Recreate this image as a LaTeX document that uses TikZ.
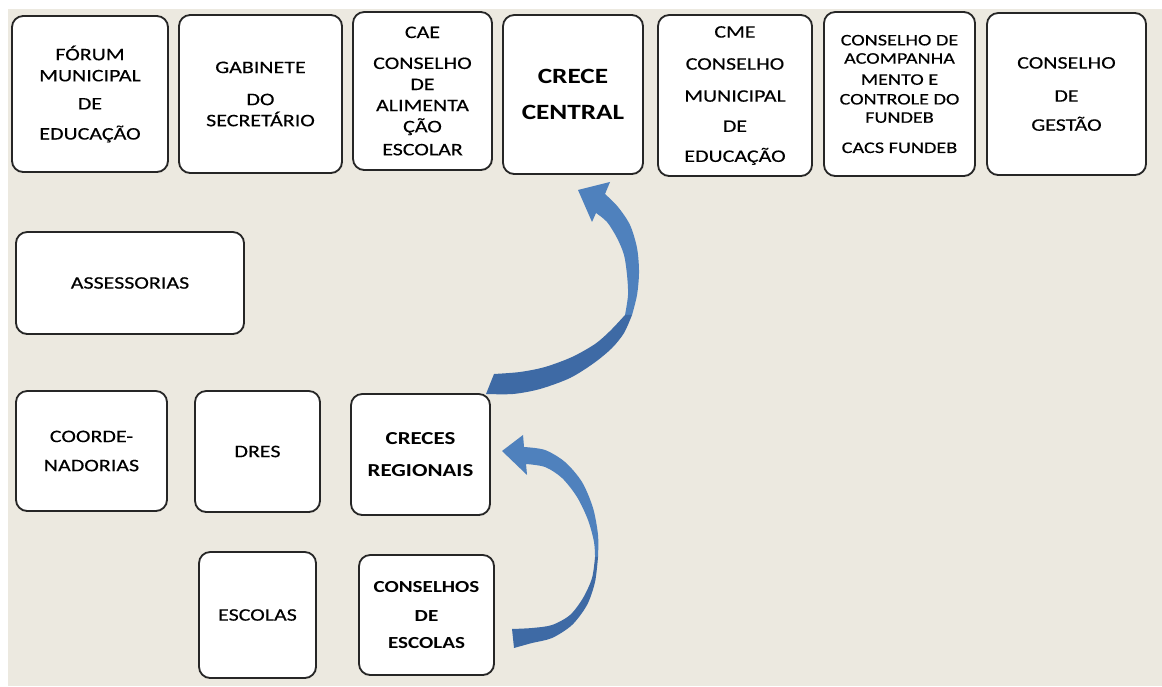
\documentclass[tikz,border=0pt]{standalone}
\usepackage{fontspec}
\setmainfont{Carlito}[FakeStretch=1.25, UprightFeatures={FakeBold=0.3}]
\usepackage{tikz}

\definecolor{fundo}{RGB}{236,233,224}
\definecolor{azul}{RGB}{79,129,189}
\definecolor{azulescuro}{RGB}{62,106,165}

\tikzset{
	caixa/.style = {draw = black!85, line width = 1.3pt, rounded corners = 8pt, fill = white,
		align = center, inner sep = 0pt, outer sep = 0pt, font = \fontsize{12.5}{15}\selectfont},
}

\begin{document}
\begin{tikzpicture}[x = 0.025cm, y = -0.025cm]
	\useasboundingbox (0,0) rectangle (1162,686);
	\fill [white] (0,0) rectangle (1162,686);
	\fill [fundo] (8,9) rectangle (1162,686);

	% linha de cima
	\node [caixa, minimum width = 3.9cm, minimum height = 3.9cm] (forum) at (90,94)
		{FÓRUM\\MUNICIPAL\\[5pt]DE\\[6.4pt]EDUCAÇÃO};
	\node [caixa, minimum width = 4.075cm, minimum height = 3.95cm] (gabinete) at (260.5,94)
		{GABINETE\\[7.8pt]DO\\SECRETÁRIO};
	\node [caixa, minimum width = 3.475cm, minimum height = 3.95cm] (cae) at (422.5,91)
		{CAE\\[7pt]CONSELHO\\DE\\ALIMENTA\\ÇÃO\\[1.4pt]ESCOLAR};
	\node [caixa, minimum width = 3.5cm, minimum height = 3.975cm, font = \fontsize{15.5}{18.6}\bfseries] (crece) at (573,94.5)
		{CRECE\\[6.4pt]CENTRAL};
	\node [caixa, minimum width = 3.85cm, minimum height = 4.025cm] (cme) at (735,95.5)
		{CME\\[7.8pt]CONSELHO\\[7.8pt]MUNICIPAL\\[6.4pt]DE\\[6.4pt]EDUCAÇÃO};
	\node [caixa, minimum width = 3.775cm, minimum height = 4.1cm, font = \fontsize{11.5}{14}\selectfont] (fundeb) at (899.5,94)
		{CONSELHO DE\\[-1pt]ACOMPANHA\\[1pt]MENTO E\\CONTROLE DO\\[-1pt]FUNDEB\\[7.5pt]CACS FUNDEB};
	\node [caixa, minimum width = 3.975cm, minimum height = 4.05cm] (gestao) at (1066.5,94)
		{CONSELHO\\[8.5pt]DE\\[5.7pt]GESTÃO};

	% assessorias e coordenadorias
	\node [caixa, minimum width = 5.7cm, minimum height = 2.55cm] (assessorias) at (130,283) {ASSESSORIAS};
	\node [caixa, minimum width = 3.775cm, minimum height = 3cm] (coorde) at (91.5,451)
		{COORDE-\\[5.7pt]NADORIAS};
	\node [caixa, minimum width = 3.125cm, minimum height = 3.025cm] (dres) at (257.5,451.5) {DRES};
	\node [caixa, minimum width = 3.475cm, minimum height = 3.025cm, font = \fontsize{13}{15.6}\bfseries] (creces) at (420.5,454.5)
		{CRECES\\[7.2pt]REGIONAIS};

	% escolas
	\node [caixa, minimum width = 2.925cm, minimum height = 3.15cm] (escolas) at (257.5,615) {ESCOLAS};
	\node [caixa, minimum width = 3.375cm, minimum height = 3cm, font = \fontsize{12}{14.4}\bfseries] (conselhos) at (426.5,615)
		{CONSELHOS\\[6.2pt]DE\\[4.8pt]ESCOLAS};

	% seta de cima: creces regionais -> crece central
	\begin{scope}[shift = {(creces.north east)}]
		\fill [azul] (120,-212) -- plot [smooth] coordinates {(115,-200) (128,-187) (140,-169) (147,-146) (149,-122) (147,-99) (142,-79)}
			-- plot [smooth] coordinates {(135,-79) (138,-99) (137,-119) (134,-139) (127,-156) (117,-172) (106,-181)}
			-- (102,-172) -- (88,-204) -- cycle;
		\fill [azulescuro] plot [smooth] coordinates {(142,-79) (134,-61) (122,-46) (104,-31) (80,-16) (50,-5) (23,0) (-4,0)}
			-- (4,-20) -- plot [smooth] coordinates {(4,-20) (30,-22) (55,-27) (82,-37) (105,-50) (120,-63) (135,-79)} -- cycle;
	\end{scope}

	% seta de baixo: conselhos de escolas -> creces regionais
	\begin{scope}[shift = {(conselhos.north east)}]
		\fill [azul] (29,-120) -- plot [smooth] coordinates {(30,-108) (51,-105) (71,-93) (88,-73) (99,-47) (104,-20) (104,2)}
			-- plot [smooth] coordinates {(101,2) (100,-13) (94,-35) (83,-58) (68,-77) (51,-88) (32,-91)}
			-- (33,-80) -- (8,-104) -- cycle;
		\fill [azulescuro] plot [smooth] coordinates {(104,2) (101,27) (93,50) (78,70) (58,83) (38,88) (20,93)}
			-- (18,74) -- plot [smooth] coordinates {(18,74) (38,73) (58,70) (76,60) (89,43) (98,23) (101,2)} -- cycle;
	\end{scope}
\end{tikzpicture}
\end{document}
